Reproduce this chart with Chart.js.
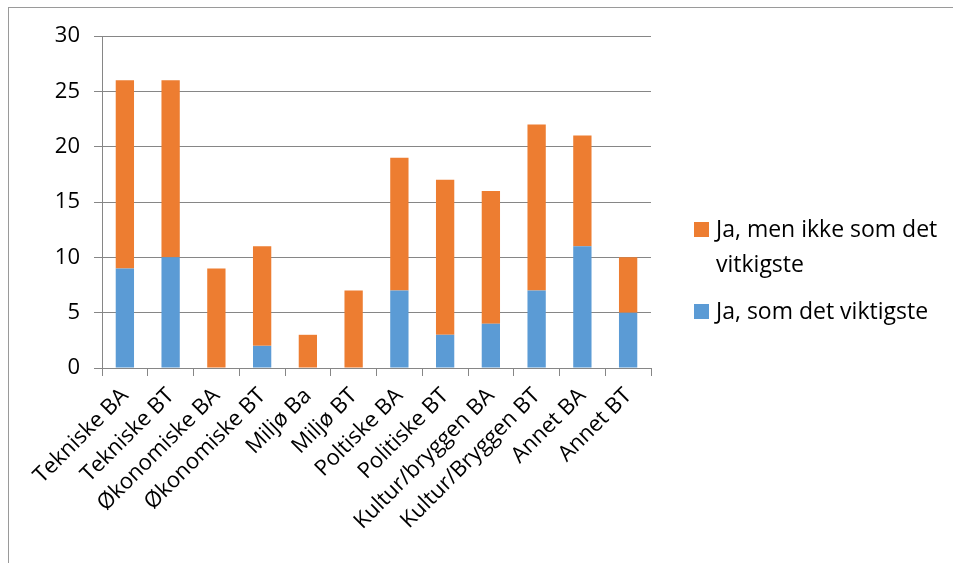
<!DOCTYPE html>
<html>
<head>
<meta charset="utf-8">
<script src="https://cdn.jsdelivr.net/npm/chart.js@4"></script>
<style>
  html, body { margin: 0; padding: 0; background: #fff; overflow: hidden; }
  .wrap { position: relative; width: 953px; height: 563px; }
  .frame { position: absolute; left: 8px; top: 7px; width: 1000px; height: 600px; border: 1px solid #9a9a9a; box-sizing: border-box; }
  canvas { position: absolute; left: 0; top: 0; }
  .legend { position: absolute; left: 694px; top: 211px; font-family: "Open Sans", sans-serif; font-size: 23px; color: #000; line-height: 35px; }
  .item { position: relative; padding-left: 22px; width: 245px; }
  .item + .item { margin-top: 12px; }
  .sw { position: absolute; left: 0; top: 11px; width: 15px; height: 15px; }
</style>
</head>
<body>
<div class="wrap">
  <div class="frame"></div>
  <canvas id="myChart" width="953" height="563"></canvas>
  <div class="legend" id="legend"></div>
</div>
<script>
// kategorier og verdier lest av figuren
const categories = ['Tekniske BA', 'Tekniske BT', 'Økonomiske BA', 'Økonomiske BT', 'Miljø Ba', 'Miljø BT',
  'Poltiske BA', 'Politiske BT', 'Kultur/bryggen BA', 'Kultur/Bryggen BT', 'Annet BA', 'Annet BT'];
const viktigste = [9, 10, 0, 2, 0, 0, 7, 3, 4, 7, 11, 5];
const ikkeViktigste = [17, 16, 9, 9, 3, 7, 12, 14, 12, 15, 10, 5];
const yTicks = [0, 5, 10, 15, 20, 25, 30];

const labelBlue = 'Ja, som det viktigste';
const labelOrange = 'Ja, men ikke som det vitkigste';
const blue = '#5B9BD5';
const orange = '#ED7D31';
const fontFam = '"Open Sans", sans-serif';

const ctx = document.getElementById('myChart').getContext('2d');
const chart = new Chart(ctx, {
  type: 'bar',
  data: {
    labels: categories,
    datasets: [
      { label: labelBlue, data: viktigste, backgroundColor: blue, barPercentage: 0.8, categoryPercentage: 0.5 },
      { label: labelOrange, data: ikkeViktigste, backgroundColor: orange, barPercentage: 0.8, categoryPercentage: 0.5 },
    ],
  },
  options: {
    responsive: false,
    animation: false,
    layout: { padding: { left: 10, right: 302, top: 36, bottom: 0 } },
    plugins: { legend: { display: false }, tooltip: { enabled: false } },
    scales: {
      x: {
        stacked: true,
        grid: { display: true, drawOnChartArea: false, drawTicks: true, tickLength: 8, color: '#868686', offset: true },
        border: { color: '#868686' },
        ticks: {
          color: '#000',
          font: { family: fontFam, size: 22 },
          minRotation: 45, maxRotation: 45, autoSkip: false, padding: 7,
        },
        afterFit: (scale) => { scale.height = 195; },
      },
      y: {
        stacked: true,
        min: 0, max: 30,
        afterBuildTicks: (scale) => { scale.ticks = yTicks.map((v) => ({ value: v })); },
        grid: { color: '#868686', tickLength: 8 },
        border: { color: '#868686' },
        ticks: {
          color: '#000',
          font: { family: fontFam, size: 22 },
          padding: 14,
        },
        afterFit: (scale) => { scale.width = 92; },
      },
    },
  },
});

// legende: oransje først, så blå
const legend = document.getElementById('legend');
[[labelOrange, orange], [labelBlue, blue]].forEach(([txt, col]) => {
  const d = document.createElement('div');
  d.className = 'item';
  d.innerHTML = '<span class="sw" style="background:' + col + '"></span>' + txt;
  legend.appendChild(d);
});
</script>
</body>
</html>
